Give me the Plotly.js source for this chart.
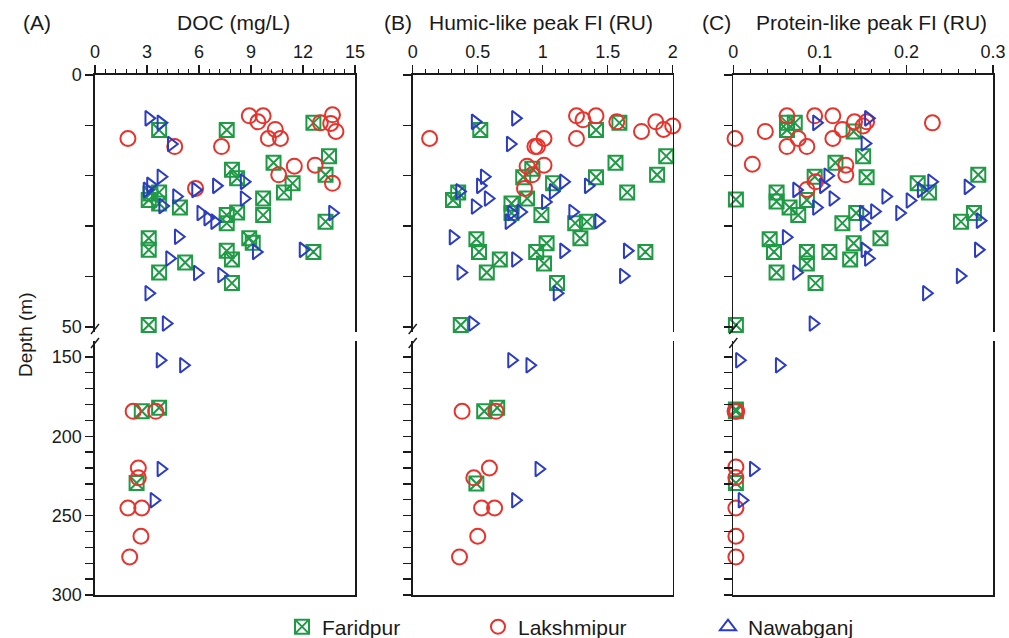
<!DOCTYPE html>
<html><head><meta charset="utf-8">
<script src="https://cdn.plot.ly/plotly-3.0.1.min.js"></script>
<style>html,body{margin:0;padding:0;background:#fff}#chart{width:1009px;height:638px}</style>
</head><body><div id="chart"></div>
<script>
// ---------- DATA: [depth (m), value] ----------
// (A) DOC (mg/L)
const docFaridpur = [[10.9,3.7],[10.9,7.6],[9.5,12.6],[16.1,13.5],[17.4,10.3],[18.8,7.9],[20.5,8.2],[21.5,11.4],[23.3,10.9],[19.8,13.3],[29.1,13.3],[24.5,9.7],[27.8,9.7],[23.5,3.2],[24.8,3.1],[23.3,3.7],[25.5,3.7],[26.3,4.9],[27.8,7.6],[27.3,8.2],[29.4,7.6],[32.4,3.1],[34.7,3.1],[37.2,5.2],[39.2,3.7],[34.9,7.6],[36.6,7.9],[32.4,8.9],[33.3,9.1],[35.1,12.6],[41.3,7.9],[49.6,3.1],[182.1,3.7],[184.3,2.7],[229.5,2.4]];
const docLakshmipur = [[12.6,1.9],[14.2,4.6],[14.2,7.3],[8.1,8.9],[8.1,9.7],[9.3,9.4],[10.8,10.4],[12.6,10.0],[12.6,10.7],[7.9,13.7],[9.5,13.0],[9.6,13.6],[11.2,13.9],[18.1,11.5],[17.9,12.7],[19.8,10.6],[21.5,13.7],[22.5,5.8],[184.3,2.2],[184.3,3.5],[220,2.5],[226.2,2.5],[245.2,1.9],[245.2,2.7],[263,2.65],[276,2.0]];
const docNawabganj = [[8.6,3.1],[9.5,3.8],[13.7,4.4],[20.2,3.8],[21.8,3.2],[22.8,3.0],[24.1,4.7],[26.0,3.9],[22.8,5.8],[22.0,7.0],[21.2,8.6],[24.5,8.6],[27.4,6.1],[28.4,6.5],[29.1,6.9],[27.4,13.7],[32.1,4.8],[36.4,4.3],[34.7,12.0],[35.1,9.3],[39.3,5.9],[39.7,7.3],[43.3,3.1],[49.3,4.1],[152.1,3.75],[155.3,5.1],[220.6,3.8],[240.3,3.4]];
// (B) Humic-like peak FI (RU)
const humFaridpur = [[10.9,0.52],[10.9,1.41],[9.5,1.59],[16.1,1.95],[17.4,1.56],[20.3,1.41],[19.8,1.88],[23.3,1.65],[20.3,0.85],[18.6,0.92],[21.5,1.08],[23.3,0.35],[24.8,0.31],[25.5,0.76],[27.4,0.76],[24.5,0.88],[27.8,0.99],[29.4,1.25],[29.1,1.34],[32.6,0.49],[35.1,0.51],[36.6,0.67],[39.2,0.57],[35.1,0.95],[33.4,1.03],[37.4,1.01],[32.4,1.29],[35.1,1.79],[41.3,1.11],[49.6,0.37],[184.3,0.55],[182.1,0.65],[229.8,0.49]];
const humLakshmipur = [[12.6,0.13],[8.1,1.26],[8.9,1.31],[8.1,1.41],[9.3,1.57],[12.6,1.26],[11.2,1.76],[9.3,1.87],[10.8,1.93],[10.1,2.0],[12.6,1.01],[14.2,0.94],[14.2,0.96],[18.1,0.88],[17.9,1.01],[19.8,0.92],[22.5,0.86],[184.3,0.38],[184.3,0.64],[220,0.59],[226.2,0.47],[245.2,0.53],[245.2,0.63],[263,0.50],[276,0.36]];
const humNawabganj = [[9.3,0.48],[8.6,0.79],[13.7,0.75],[20.2,0.55],[22.0,0.52],[23.1,0.36],[24.5,0.58],[26.1,0.48],[27.4,0.76],[29.1,0.74],[27.2,0.83],[25.2,1.02],[23.1,1.08],[21.2,1.16],[22.0,1.35],[27.2,1.23],[29.0,1.43],[32.2,0.31],[34.9,1.16],[34.9,1.65],[36.6,0.79],[39.2,0.37],[39.9,1.62],[43.3,1.11],[49.3,0.46],[152.1,0.76],[155.3,0.90],[220.6,0.97],[240.3,0.79]];
// (C) Protein-like peak FI (RU)
const proFaridpur = [[9.5,0.062],[9.5,0.071],[10.9,0.062],[11.2,0.139],[16.1,0.150],[17.4,0.118],[20.2,0.094],[20.3,0.154],[21.5,0.213],[23.3,0.226],[19.8,0.283],[24.7,0.003],[23.3,0.050],[25.1,0.050],[26.3,0.065],[27.8,0.075],[24.8,0.085],[29.4,0.126],[27.4,0.142],[29.1,0.263],[27.4,0.278],[32.6,0.042],[35.1,0.047],[35.1,0.085],[37.4,0.085],[35.1,0.111],[33.4,0.139],[36.6,0.135],[32.4,0.170],[39.2,0.050],[41.3,0.095],[49.6,0.003],[183.2,0.003],[184.3,0.003],[229.4,0.003]];
const proLakshmipur = [[12.6,0.002],[8.1,0.062],[11.2,0.037],[12.6,0.075],[14.2,0.062],[14.2,0.085],[8.1,0.094],[8.1,0.115],[12.6,0.115],[10.8,0.126],[9.3,0.140],[10.1,0.150],[9.3,0.154],[9.5,0.230],[17.7,0.022],[17.9,0.130],[19.8,0.130],[21.2,0.095],[22.7,0.085],[184.3,0.002],[184.3,0.004],[219.3,0.003],[226,0.003],[245.2,0.003],[263,0.003],[276,0.003]];
const proNawabganj = [[8.6,0.156],[9.5,0.096],[13.6,0.152],[20.0,0.109],[22.0,0.104],[22.8,0.073],[24.5,0.115],[26.3,0.096],[27.4,0.150],[27.1,0.163],[29.4,0.151],[24.1,0.176],[27.4,0.192],[24.9,0.204],[22.8,0.217],[21.2,0.229],[22.2,0.271],[28.9,0.285],[32.2,0.061],[34.7,0.152],[36.4,0.156],[39.2,0.073],[34.7,0.283],[39.9,0.262],[43.3,0.223],[49.3,0.092],[152.1,0.007],[155.3,0.053],[220.6,0.023],[240.3,0.010]];

const siteNames = ['Faridpur','Lakshmipur','Nawabganj'];
const panelTitles = ['DOC (mg/L)','Humic-like peak FI (RU)','Protein-like peak FI (RU)'];
const panelLetters = ['(A)','(B)','(C)'];
const xRanges = [[0,15],[0,2],[0,0.3]];
const xTickVals = [[0,3,6,9,12,15],[0,0.5,1,1.5,2],[0,0.1,0.2,0.3]];
const xTickText = [['0','3','6','9','12','15'],['0','0.5','1','1.5','2'],['0','0.1','0.2','0.3']];
const xMinor = [0.6,0.1,0.02];
const topDepthTicks = [0,10,20,30,40,50];
const topDepthText = ['0','','','','','50'];
const botDepthTicks = [150,160,170,180,190,200,210,220,230,240,250,260,270,280,290,300];
const botDepthText = botDepthTicks.map(v => v % 50 === 0 ? String(v) : '');

const panels = [[docFaridpur,docLakshmipur,docNawabganj],[humFaridpur,humLakshmipur,humNawabganj],[proFaridpur,proLakshmipur,proNawabganj]];

// ---------- STYLE ----------
const colors = ['#1f9a45','#e8322b','#2b3cc2'];
const symbols = ['square-x-open','circle-open','triangle-right-open'];
const sizes = [14,15,13];
const legendSymbols = ['square-x-open','circle-open','triangle-up-open'];
const FONT = 'Liberation Sans, Arial, sans-serif';
const INK = '#1a1a1a';

const W = 1009, H = 638, ML = 95, MR = 16, MT = 75, MB = 43;
const PW = W - ML - MR, PH = H - MT - MB;
const fx = p => (p - ML) / PW;
const fy = p => (H - MB - p) / PH;
const xLeftPx = [95, 412.7, 733.3], xRightPx = [355, 672.7, 993];
const topDom = [fy(332), 1], botDom = [0, fy(341)];

const traces = [];
panels.forEach((sets, p) => {
  sets.forEach((pts, s) => {
    const top = pts.filter(d => d[0] < 100), bot = pts.filter(d => d[0] >= 100);
    const mk = {symbol: symbols[s], size: sizes[s], color: colors[s], line: {color: colors[s], width: 2}};
    traces.push({type:'scatter', mode:'markers', x: top.map(d=>d[1]), y: top.map(d=>d[0]),
      xaxis: 'x' + (p===0?'':p+1), yaxis: 'y' + (p===0?'':p+1), marker: mk, showlegend:false, cliponaxis:false, hoverinfo:'x+y'});
    traces.push({type:'scatter', mode:'markers', x: bot.map(d=>d[1]), y: bot.map(d=>d[0]),
      xaxis: 'x' + (p+4), yaxis: 'y' + (p+4), marker: mk, showlegend:false, cliponaxis:false, hoverinfo:'x+y'});
  });
});
// legend entries
siteNames.forEach((n, s) => {
  traces.push({type:'scatter', mode:'markers', x:[null], y:[null], name:n, xaxis:'x', yaxis:'y',
    legend: s===0 ? 'legend' : 'legend' + (s+1),
    marker:{symbol: legendSymbols[s], size: 14, color: colors[s], line:{color: colors[s], width:2}}, showlegend:true});
});

const layout = {
  width: W, height: H, margin: {l: ML, r: MR, t: MT, b: MB, autoexpand:false},
  paper_bgcolor:'#fff', plot_bgcolor:'#fff',
  font: {family: FONT, color: INK, size: 18},
  annotations: [], shapes: []
};
for (let p = 0; p < 3; p++) {
  const dom = [fx(xLeftPx[p]), fx(xRightPx[p])];
  const xt = 'xaxis' + (p===0?'':p+1), yt = 'yaxis' + (p===0?'':p+1);
  const xb = 'xaxis' + (p+4), yb = 'yaxis' + (p+4);
  const xid = 'x' + (p===0?'':p+1), yid = 'y' + (p===0?'':p+1);
  layout[xt] = {domain: dom, anchor: yid, side:'top', range: xRanges[p], tickmode:'array', tickvals: xTickVals[p], ticktext: xTickText[p],
    ticks:'outside', ticklen:8, tickwidth:1.4, tickcolor: INK, showline:true, linewidth:1.6, linecolor: INK,
    showgrid:false, zeroline:false, tickfont:{size:18, color: INK},
    minor:{dtick: xMinor[p], tick0:0, ticks:'outside', ticklen:4, tickwidth:1.1, tickcolor: INK, showgrid:false}};
  layout[xb] = {domain: dom, anchor: 'y'+(p+4), matches: xid, showline:true, linewidth:1.6, linecolor: INK,
    ticks:'', showticklabels:false, showgrid:false, zeroline:false};
  layout[yt] = {domain: topDom, anchor: xid, range:[51,0], tickmode:'array', tickvals: topDepthTicks, ticktext: topDepthText,
    ticks:'outside', ticklen:8, tickwidth:1.4, tickcolor: INK, showline:true, mirror:true, linewidth:1.6, linecolor: INK,
    showgrid:false, zeroline:false, showticklabels: p===0, tickfont:{size:18, color: INK}};
  layout[yb] = {domain: botDom, anchor: 'x'+(p+4), range:[300,140], tickmode:'array', tickvals: botDepthTicks, ticktext: botDepthText,
    ticks:'outside', ticklen:8, tickwidth:1.4, tickcolor: INK, showline:true, mirror:true, linewidth:1.6, linecolor: INK,
    showgrid:false, zeroline:false, showticklabels: p===0, tickfont:{size:18, color: INK}};
  // break marks on left spine
  [329, 343].forEach(py => {
    layout.shapes.push({type:'line', xref:'paper', yref:'paper',
      x0: fx(xLeftPx[p]-4), y0: fy(py+5), x1: fx(xLeftPx[p]+4), y1: fy(py-5), line:{color: INK, width:1.4}});
  });
}
// panel titles
const letterPx = [37, 398, 716], titlePx = [233, 541, 871];
for (let p = 0; p < 3; p++) {
  layout.annotations.push({text: panelLetters[p], xref:'paper', yref:'paper', x: fx(letterPx[p]), y: fy(23), showarrow:false,
    xanchor:'center', yanchor:'middle', font:{size:21, color: INK}});
  layout.annotations.push({text: panelTitles[p], xref:'paper', yref:'paper', x: fx(titlePx[p]), y: fy(23), showarrow:false,
    xanchor:'center', yanchor:'middle', font:{size:21, color: INK}});
}
layout.annotations.push({text:'Depth (m)', xref:'paper', yref:'paper', x: fx(25), y: fy(335), textangle:-90, showarrow:false,
  xanchor:'center', yanchor:'middle', font:{size:19, color: INK}});
const legX = [282, 478, 708];
['legend','legend2','legend3'].forEach((k, i) => {
  layout[k] = {x: fx(legX[i]), y: fy(627), xanchor:'left', yanchor:'middle', orientation:'h', bgcolor:'rgba(0,0,0,0)',
    font:{size:21, color: INK}, itemclick:false, itemdoubleclick:false};
});

Plotly.newPlot('chart', traces, layout, {displayModeBar:false, staticPlot:true});
</script>
</body></html>
